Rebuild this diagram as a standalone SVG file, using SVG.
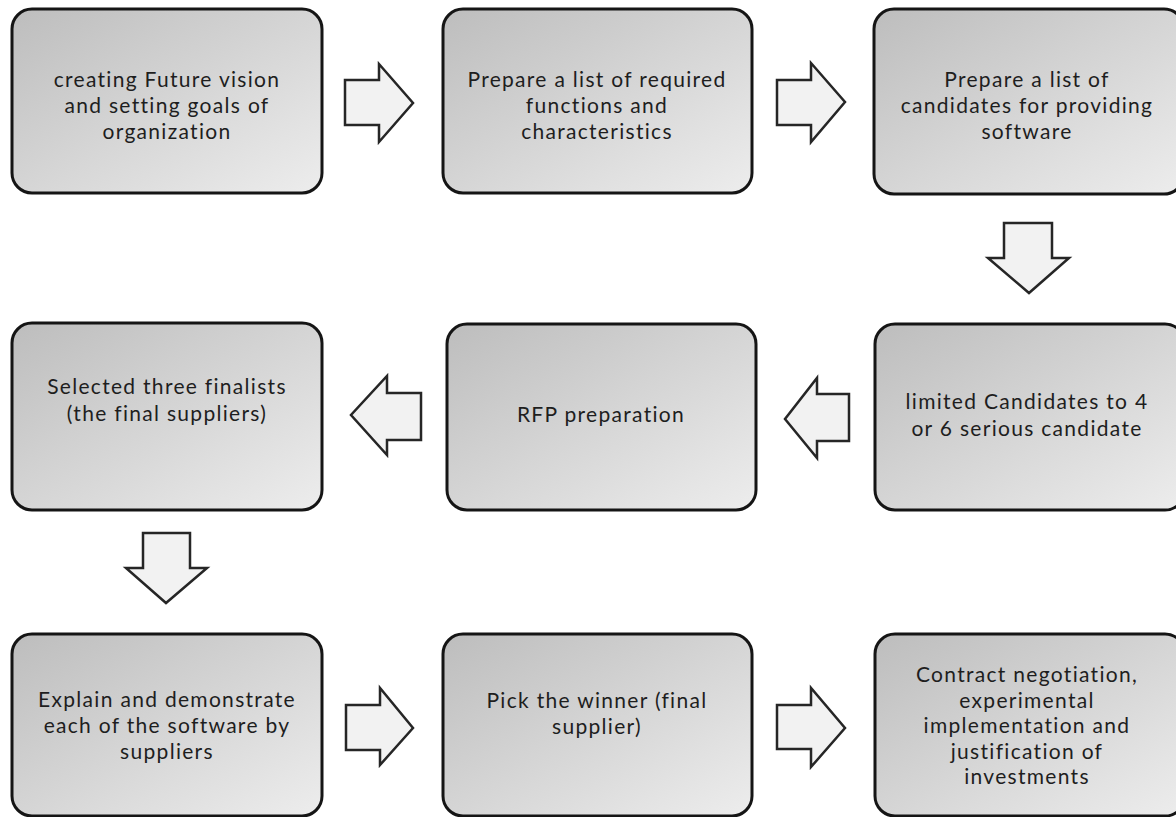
<svg xmlns="http://www.w3.org/2000/svg" width="1176" height="817" viewBox="0 0 1176 817">
<defs>
<linearGradient id="g" x1="0" y1="0" x2="1" y2="1">
<stop offset="0" stop-color="#bdbdbd"/>
<stop offset="1" stop-color="#ededed"/>
</linearGradient>
<style>
.box{fill:url(#g);stroke:#151515;stroke-width:3}
.t{font-family:Lato,"Open Sans",sans-serif;font-size:21px;letter-spacing:1.3px;fill:#1e1e1e;text-anchor:middle}
.arr{fill:#f2f2f2;stroke:#262626;stroke-width:2.5;stroke-linejoin:miter}
</style>
</defs>
<rect width="1176" height="817" fill="#fff"/>
<g id="n1"><rect class="box" x="12" y="9" width="310" height="184" rx="20"/>
<text class="t"><tspan x="167" y="87">creating Future vision</tspan><tspan x="167" y="113">and setting goals of</tspan><tspan x="167" y="139">organization</tspan></text></g>
<g id="n2"><rect class="box" x="443" y="9" width="309" height="184" rx="20"/>
<text class="t"><tspan x="597" y="87">Prepare a list of required</tspan><tspan x="597" y="113">functions and</tspan><tspan x="597" y="139">characteristics</tspan></text></g>
<g id="n3"><rect class="box" x="874" y="9" width="310" height="185" rx="20"/>
<text class="t"><tspan x="1027" y="87">Prepare a list of</tspan><tspan x="1027" y="113">candidates for providing</tspan><tspan x="1027" y="139">software</tspan></text></g>
<g id="n4"><rect class="box" x="875" y="324" width="310" height="186" rx="20"/>
<text class="t"><tspan x="1027" y="409">limited Candidates to 4</tspan><tspan x="1027" y="436">or 6 serious candidate</tspan></text></g>
<g id="n5"><rect class="box" x="447" y="324" width="309" height="186" rx="20"/>
<text class="t"><tspan x="601" y="422">RFP preparation</tspan></text></g>
<g id="n6"><rect class="box" x="12" y="323" width="310" height="187" rx="20"/>
<text class="t"><tspan x="167" y="394">Selected three finalists</tspan><tspan x="167" y="421">(the final suppliers)</tspan></text></g>
<g id="n7"><rect class="box" x="12" y="634" width="310" height="182" rx="20"/>
<text class="t"><tspan x="167" y="707">Explain and demonstrate</tspan><tspan x="167" y="733">each of the software by</tspan><tspan x="167" y="759">suppliers</tspan></text></g>
<g id="n8"><rect class="box" x="443" y="634" width="309" height="182" rx="20"/>
<text class="t"><tspan x="597" y="708">Pick the winner (final</tspan><tspan x="597" y="734">supplier)</tspan></text></g>
<g id="n9"><rect class="box" x="875" y="634" width="310" height="182" rx="20"/>
<text class="t"><tspan x="1027" y="682">Contract negotiation,</tspan><tspan x="1027" y="707.5">experimental</tspan><tspan x="1027" y="733">implementation and</tspan><tspan x="1027" y="758.5">justification of</tspan><tspan x="1027" y="784">investments</tspan></text></g>
<g id="connectors">
<path class="arr" d="M345,80 H379 V64 L413,103 L379,142 V125 H345 Z"/>
<path class="arr" d="M777,80 H811 V63 L845,102 L811,142 V125 H777 Z"/>
<path class="arr" d="M1004,223 H1052 V258 H1069 L1029,293 L988,258 H1004 Z"/>
<path class="arr" d="M849,394 V441 H817 V458 L785,419 L817,378 V394 Z"/>
<path class="arr" d="M421,393 V440 H387 V455 L351,415 L387,376 V393 Z"/>
<path class="arr" d="M143,533 H190 V568 H207 L166,603 L126,568 H143 Z"/>
<path class="arr" d="M346,705 H380 V688 L413,728 L380,765 V750 H346 Z"/>
<path class="arr" d="M777,705 H811 V688 L845,728 L811,767 V749 H777 Z"/>
</g>
</svg>
